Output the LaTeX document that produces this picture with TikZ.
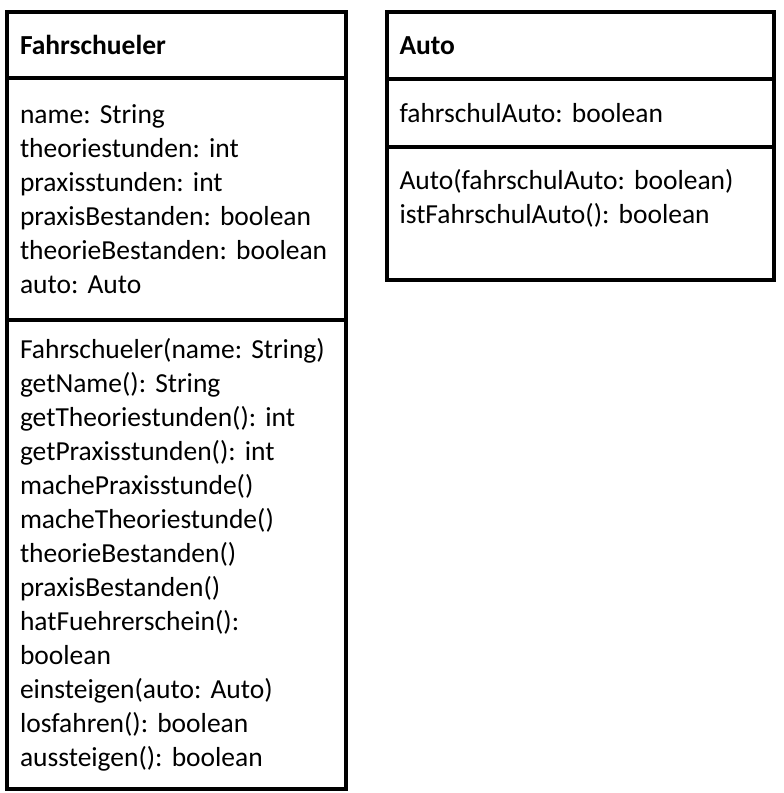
\documentclass[tikz,border=0pt]{standalone}
\usepackage{fontspec}
\setmainfont{Carlito}
\usepackage{tikz}
\usetikzlibrary{positioning}
\definecolor{ink}{HTML}{000000}
\frenchspacing

\begin{document}
\begin{tikzpicture}[x=1pt, y=-1pt, line width=4pt, node distance=0pt,
  compartment/.style={draw=ink, rectangle, anchor=north west, outer sep=0pt, inner ysep=0pt, align=left, font=\fontsize{27.5}{34}\selectfont},
  fahrbox/.style={compartment, text width=312.5pt, inner xsep=13pt},
  autobox/.style={compartment, text width=362pt, inner xsep=12.5pt}]
  \useasboundingbox (0,0) rectangle (784,793);
  % class Fahrschueler: name, attributes, operations
  \node[fahrbox, minimum height=66pt] (fahrHead) at (7,12) {\textbf{Fahrschueler}};
  \node[fahrbox, minimum height=242pt, below=of fahrHead] (fahrAttr) {name: String\\ theoriestunden: int\\ praxisstunden: int\\ praxisBestanden: boolean\\ theorieBestanden: boolean\\ auto: Auto};
  \node[fahrbox, minimum height=469pt, below=of fahrAttr] (fahrOps) {Fahrschueler(name: String)\\ getName(): String\\ getTheoriestunden(): int\\ getPraxisstunden(): int\\ machePraxisstunde()\\ macheTheoriestunde()\\ theorieBestanden()\\ praxisBestanden()\\ hatFuehrerschein():\\ boolean\\ einsteigen(auto: Auto)\\ losfahren(): boolean\\ aussteigen(): boolean};
  % class Auto
  \node[autobox, minimum height=67pt] (autoHead) at (387,12) {\textbf{Auto}};
  \node[autobox, minimum height=68pt, below=of autoHead] (autoAttr) {fahrschulAuto: boolean};
  \node[autobox, minimum height=133pt, below=of autoAttr] (autoOps) {Auto(fahrschulAuto: boolean)\\ istFahrschulAuto(): boolean\\ \mbox{}};
\end{tikzpicture}
\end{document}
